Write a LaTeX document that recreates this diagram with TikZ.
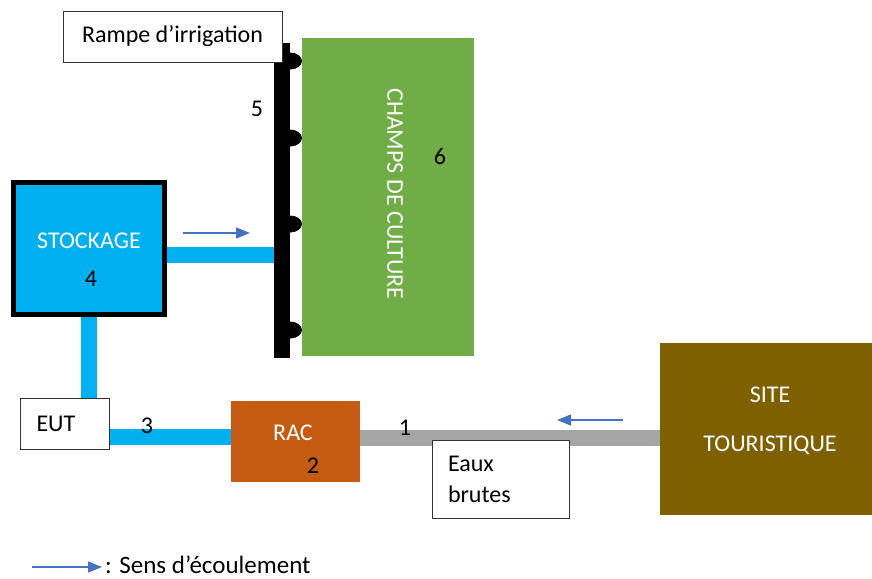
\documentclass[tikz,border=0pt]{standalone}
\usepackage{fontspec}
\setmainfont{Carlito}
\usetikzlibrary{arrows.meta, calc, backgrounds}
\definecolor{stock}{RGB}{0,176,240}
\definecolor{field}{RGB}{112,173,71}
\definecolor{rac}{RGB}{197,90,17}
\definecolor{site}{RGB}{127,96,0}
\definecolor{raw}{RGB}{165,165,165}
\definecolor{flow}{RGB}{68,114,196}

\begin{document}
\begin{tikzpicture}[x=1pt, y=-1pt, font=\fontsize{24}{28}\selectfont]
% TikZ styles
\tikzset{
  box/.style={rectangle, draw=black!80, line width=0.8pt, fill=white, inner sep=0pt},
  block/.style={rectangle, inner sep=0pt, outer sep=0pt},
  whitetxt/.style={text=white, inner sep=0pt},
  num/.style={inner sep=0pt},
  bluepipe/.style={draw=stock, line width=16pt},
  graypipe/.style={draw=raw, line width=16pt},
  arrow/.style={-{Triangle[length=14pt,width=11pt]}, draw=flow, fill=flow, line width=1.4pt}
};
\useasboundingbox (0,0) rectangle (872,578);

%==========================
% Champ et rampe
%==========================
\node[block, fill=field, minimum width=172pt, minimum height=318pt] (champs) at (388,197) {};
\node[whitetxt, rotate=-90] (champstxt) at (395,194) {CHAMPS DE CULTURE};
\node[block, fill=black, minimum width=16pt, minimum height=315pt] (rampe) at (282,200.5) {};
\foreach \ny in {61,138,224,330}
  \fill (rampe.east |- 0,\ny) ++(0,-8.5) arc[start angle=90, end angle=-90, x radius=12pt, y radius=8.5pt] -- cycle;
\node[box, minimum width=219pt, minimum height=51pt] (rampetxt) at (172.5,36.5) {Rampe d’irrigation};

%==========================
% Stockage, EUT, RAC, site
%==========================
\node[block, fill=stock, draw=black, line width=5pt, minimum width=151pt, minimum height=132pt] (stock) at (89,248.5) {};
\node[whitetxt] (stocktxt) at (89,241) {STOCKAGE};

\node[box, minimum width=88.5pt, minimum height=51pt, text width=56.5pt, align=left] (eut) at (64.75,423.5) {EUT};

\node[block, fill=rac, minimum width=129pt, minimum height=81pt] (rac) at (295.5,441.5) {};
\node[whitetxt] (ractxt) at (293,433) {RAC};

\node[block, fill=site, minimum width=212pt, minimum height=172pt] (site) at (766,429) {};
\node[whitetxt, align=center] (sitetxt) at (770,421) {SITE\\[21pt]TOURISTIQUE};

\node[box, minimum width=137pt, minimum height=78pt, text width=105pt, align=left] (eaux) at (500.5,479) {Eaux\\[3pt]brutes};

% === Numeros ===
\node[num] (n1) at (405,428) {1};
\node[num] (n2) at (313,466) {2};
\node[num] (n3) at (147,426) {3};
\node[num] (n4) at (91,279) {4};
\node[num] (n5) at (257,109) {5};
\node[num] (n6) at (440,156) {6};

% === Conduites ===
\coordinate (jstock) at ($(stock.east)+(0,6.5)$);
\coordinate (jeut) at ($(eut.east)+(0,13.5)$);
\coordinate (jrac) at ($(rac.east)+(0,-3.5)$);
\begin{scope}[on background layer]
\draw[bluepipe] (jstock) -- (jstock -| rampe.west);
\draw[bluepipe] (stock.south) -- (stock.south |- eut.north);
\draw[bluepipe] (jeut) -- (jeut -| rac.west);
\draw[graypipe] (jrac) -- (jrac -| site.west);
\end{scope}

% === Sens d'ecoulement ===
\coordinate (f1s) at (183,233);
\coordinate (f1e) at (250,233);
\coordinate (f2s) at (623,420);
\coordinate (f2e) at (557,420);
\coordinate (legs) at (32,567);
\coordinate (lege) at (102,567);
\draw[arrow] (f1s) -- (f1e);
\draw[arrow] (f2s) -- (f2e);
\draw[arrow] (legs) -- (lege);
\node[anchor=base west, inner sep=0pt, font=\fontsize{25}{28}\selectfont] (legend) at (105,573) {: Sens d’écoulement};
\end{tikzpicture}
\end{document}
